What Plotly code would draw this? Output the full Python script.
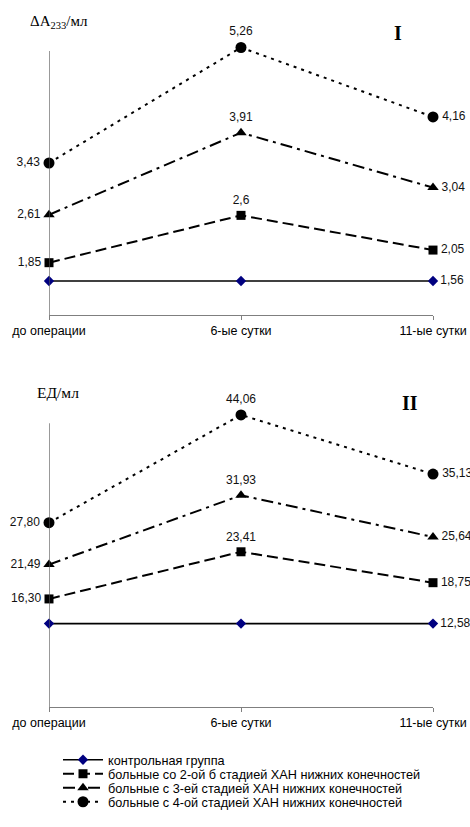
import plotly.graph_objects as go

# the page body margin is removed (see post_script), so figure pixels == window pixels
W, H = 470, 827

def px(x):
    return x / W

def py(y):
    return 1 - y / H

# ---- data ----
categories = ["до операции", "6-ые сутки", "11-ые сутки"]
series_names = [
    "контрольная группа",
    "больные со 2-ой б стадией ХАН нижних конечностей",
    "больные с 3-ей стадией ХАН нижних конечностей",
    "больные с 4-ой стадией ХАН нижних конечностей",
]
# panel I  (ΔA233/мл)
p1_control = [1.56, 1.56, 1.56]
p1_stage2 = [1.85, 2.60, 2.05]
p1_stage3 = [2.61, 3.91, 3.04]
p1_stage4 = [3.43, 5.26, 4.16]
p1_labels = [
    [None, None, "1,56"],
    ["1,85", "2,6", "2,05"],
    ["2,61", "3,91", "3,04"],
    ["3,43", "5,26", "4,16"],
]
# panel II (ЕД/мл)
p2_control = [12.58, 12.58, 12.58]
p2_stage2 = [16.30, 23.41, 18.75]
p2_stage3 = [21.49, 31.93, 25.64]
p2_stage4 = [27.80, 44.06, 35.13]
p2_labels = [
    [None, None, "12,58"],
    ["16,30", "23,41", "18,75"],
    ["21,49", "31,93", "25,64"],
    ["27,80", "44,06", "35,13"],
]

# ---- styles ----
styles = [
    dict(line=dict(color="black", width=1.6, dash="solid"),
         marker=dict(symbol="diamond", size=8, color="#000080")),
    dict(line=dict(color="black", width=2, dash="11px,5px"),
         marker=dict(symbol="square", size=9, color="black")),
    dict(line=dict(color="black", width=2, dash="12px,5px,3px,5px"),
         marker=dict(symbol="triangle-up", size=10, color="black")),
    dict(line=dict(color="black", width=2, dash="3px,5px"),
         marker=dict(symbol="circle", size=11, color="black")),
]

x_idx = list(range(len(categories)))
text_pos_all = ["middle left", "top center", "middle right"]
label_font = dict(family="Liberation Sans, Arial", size=12, color="#111")

fig = go.Figure()

panels = [
    ("y", "x", [p1_control, p1_stage2, p1_stage3, p1_stage4], p1_labels),
    ("y2", "x2", [p2_control, p2_stage2, p2_stage3, p2_stage4], p2_labels),
]
legend_ids = ["legend", "legend2", "legend3", "legend4"]

for pi, (yax, xax, data, labels) in enumerate(panels):
    for si, vals in enumerate(data):
        st = styles[si]
        fig.add_trace(go.Scatter(
            x=x_idx, y=vals, mode="lines+markers", yaxis=yax, xaxis=xax,
            name=series_names[si], line=st["line"], marker=st["marker"],
            showlegend=(pi == 0), legend=legend_ids[si], cliponaxis=False,
            hoverinfo="skip",
        ))
    for si, vals in enumerate(data):
        keep = [i for i, t in enumerate(labels[si]) if t is not None]
        fig.add_trace(go.Scatter(
            x=[x_idx[i] for i in keep], y=[vals[i] for i in keep],
            mode="markers+text", yaxis=yax, xaxis=xax,
            text=[labels[si][i] for i in keep],
            textposition=[text_pos_all[i] for i in keep], textfont=label_font,
            marker=dict(size=styles[si]["marker"]["size"] + 2, color="rgba(0,0,0,0)"),
            showlegend=False, cliponaxis=False, hoverinfo="skip",
        ))

# axis extents (pixel-calibrated)
Y1_MIN, Y1_MAX, Y1_AXIS_TOP = 1.021, 5.379, 5.205
Y2_MIN, Y2_MAX, Y2_AXIS_TOP = 0.0, 45.55, 42.8

xcommon = dict(
    range=[0, 2], tickmode="array", tickvals=x_idx, ticktext=categories,
    showline=True, linecolor="#7f7f7f", linewidth=1.2,
    ticks="outside", ticklen=4, tickcolor="#7f7f7f", tickwidth=1.2,
    showgrid=False, zeroline=False,
    tickfont=dict(family="Liberation Sans, Arial", size=12.5, color="black"),
    domain=[px(49), px(433)], fixedrange=True,
)
ycommon = dict(showline=False, showgrid=False, zeroline=False,
               showticklabels=False, ticks="", fixedrange=True)

fig.update_layout(
    width=W, height=H,
    margin=dict(l=0, r=0, t=0, b=0, autoexpand=False),
    paper_bgcolor="white", plot_bgcolor="rgba(0,0,0,0)",
    xaxis=dict(**xcommon, anchor="y"),
    xaxis2=dict(**xcommon, anchor="y2"),
    yaxis=dict(**ycommon, range=[Y1_MIN, Y1_MAX], domain=[py(315), py(40)], anchor="x"),
    yaxis2=dict(**ycommon, range=[Y2_MIN, Y2_MAX], domain=[py(707), py(405)], anchor="x2"),
    showlegend=True,
)

# y-axis lines
fig.add_shape(type="line", xref="x", yref="y", x0=0, x1=0, y0=Y1_MIN, y1=Y1_AXIS_TOP,
              line=dict(color="#555555", width=1.2))
fig.add_shape(type="line", xref="x2", yref="y2", x0=0, x1=0, y0=Y2_MIN, y1=Y2_AXIS_TOP,
              line=dict(color="#555555", width=1.2))

serif = "Liberation Serif, Times New Roman"
fig.add_annotation(text="ΔA<sub>233</sub>/мл", x=px(59), y=py(22), xref="paper", yref="paper",
                   xanchor="center", yanchor="middle",
                   showarrow=False, font=dict(family=serif, size=15, color="black"))
fig.add_annotation(text="ЕД/мл", x=px(58), y=py(393), xref="paper", yref="paper",
                   xanchor="center", yanchor="middle",
                   showarrow=False, font=dict(family=serif, size=15.5, color="black"))
fig.add_annotation(text="<b>I</b>", x=px(398), y=py(33), xref="paper", yref="paper",
                   xanchor="center", yanchor="middle",
                   showarrow=False, font=dict(family=serif, size=20, color="black"))
fig.add_annotation(text="<b>II</b>", x=px(410), y=py(403), xref="paper", yref="paper",
                   xanchor="center", yanchor="middle",
                   showarrow=False, font=dict(family=serif, size=20, color="black"))

legend_ys = [760, 774, 788, 802]
leg_font = dict(family="Liberation Sans, Arial", size=12.7, color="black")
for lid, ly in zip(legend_ids, legend_ys):
    fig.update_layout(**{lid: dict(x=px(58), y=py(ly), xanchor="left", yanchor="middle",
                                   bgcolor="rgba(0,0,0,0)", borderwidth=0,
                                   font=leg_font, itemwidth=40)})

fig.write_html(
    "out.html",
    config={"displayModeBar": False},
    post_script="document.body.style.margin='0px';document.body.style.overflow='hidden';",
)
